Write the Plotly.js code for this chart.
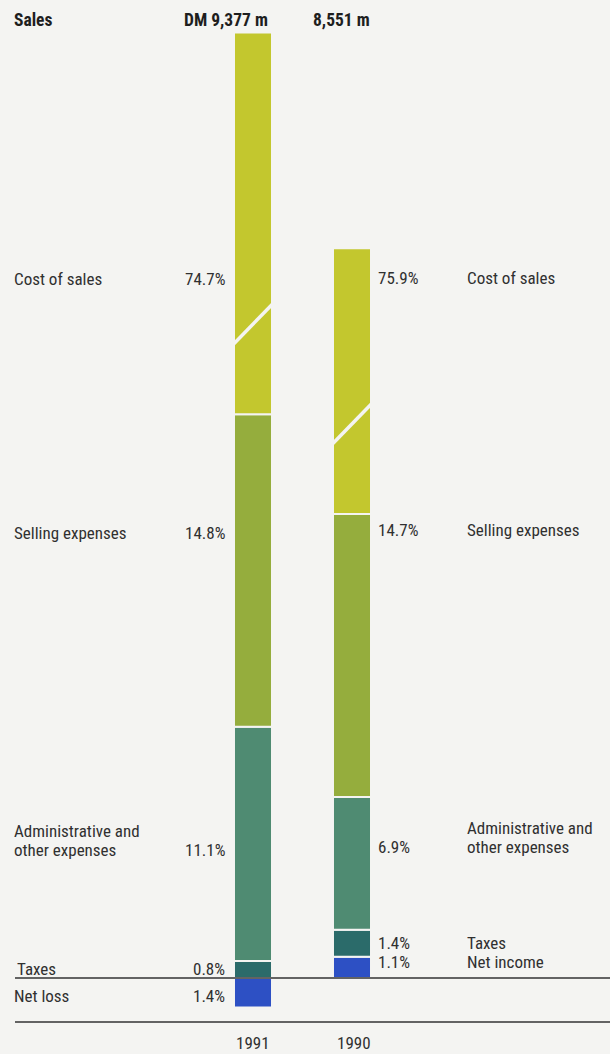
<!DOCTYPE html>
<html>
<head>
<meta charset="utf-8">
<script src="https://cdn.plot.ly/plotly-3.0.1.min.js"></script>
<style>
html,body{margin:0;padding:0;background:#f4f4f2;}
#chart{width:610px;height:1054px;}
</style>
</head>
<body>
<div id="chart"></div>
<script>
// ---- data ----
const years = ['1991', '1990'];
const salesDM = [9377, 8551];               // DM m
const salesLabels = ['DM 9,377 m', '8,551 m'];
const costPct = [74.7, 75.9];
const sellingPct = [14.8, 14.7];
const adminPct = [11.1, 6.9];
const taxesPct = [0.8, 1.4];
const netPct = [-1.4, 1.1];                 // 1991 net loss, 1990 net income
const leftItems = ['Cost of sales', 'Selling expenses', ['Administrative and', 'other expenses'], 'Taxes', 'Net loss'];
const rightItems = ['Cost of sales', 'Selling expenses', ['Administrative and', 'other expenses'], 'Taxes', 'Net income'];

// ---- presentation ----
const W = 610, H = 1054;
const AXIS_BREAK = 5310;   // DM m hidden in the broken cost-of-sales segment
const BREAK_POS = 400;     // break mark position above the cost segment base
const colors = {
  cost: '#c3c72e', selling: '#95ad3d', admin: '#4f8b72', taxes: '#2b6b6a', net: '#2d50c4'
};
const FONT = '"Roboto Condensed", "Open Sans Condensed", "DejaVu Sans Condensed", sans-serif';
const TXT = '#303030';
const BG = '#f4f4f2';

const dm = pct => pct.map((p, i) => p / 100 * salesDM[i]);
const costDM = dm(costPct), sellingDM = dm(sellingPct), adminDM = dm(adminPct),
      taxesDM = dm(taxesPct), netDM = dm(netPct);
const costShown = costDM.map(v => v - AXIS_BREAK);

function bar(name, y, color) {
  return {
    type: 'bar', x: years, y: y, name: name, width: 0.384,
    marker: {color: color, line: {color: BG, width: 2}},
    hoverinfo: 'skip', showlegend: false
  };
}
const traces = [
  bar('Net income / loss', netDM, colors.net),
  bar('Taxes', taxesDM, colors.taxes),
  bar('Administrative and other expenses', adminDM, colors.admin),
  bar('Selling expenses', sellingDM, colors.selling),
  bar('Cost of sales', costShown, colors.cost)
];

// pixel scale: 0.2252 px per DM m, baseline at y=978 px
const PXPER = 0.2252, BASE = 978, X0 = 253, XSTEP = 99;
const yRange = [-(H - BASE) / PXPER, BASE / PXPER];
const xRange = [-X0 / XSTEP, (W - X0) / XSTEP];

const px = x => x / W, py = y => 1 - y / H;

const shapes = [];
// break marks inside cost of sales
years.forEach((yr, i) => {
  const base = Math.max(netDM[i], 0) + taxesDM[i] + adminDM[i] + sellingDM[i];
  const c = base + BREAK_POS;
  shapes.push({type: 'line', xref: 'x', yref: 'y', x0: i - 0.21, x1: i + 0.21,
    y0: c - 95, y1: c + 95, line: {color: BG, width: 3.5}});
});
// baseline and bottom rule
shapes.push({type: 'line', xref: 'paper', yref: 'y', x0: px(15), x1: 1, y0: 0, y1: 0,
  line: {color: '#333', width: 1.4}});
shapes.push({type: 'line', xref: 'paper', yref: 'paper', x0: px(15), x1: 1, y0: py(1022), y1: py(1022),
  line: {color: '#333', width: 1.4}});

const annotations = [];
function ann(text, x, y, anchor, opts) {
  annotations.push(Object.assign({
    text: text, xref: 'paper', yref: 'paper', x: px(x), y: py(y),
    xanchor: anchor, yanchor: 'middle', showarrow: false,
    font: {family: FONT, size: 17, color: TXT}, align: 'left'
  }, opts || {}));
}
function annLines(t, x, y, anchor) {
  if (Array.isArray(t)) {
    t.forEach((line, j) => ann(line, x, y + (j - t.length + 1) * 19, anchor));
  } else {
    ann(t, x, y, anchor);
  }
}
const fmt = p => Math.abs(p).toFixed(1) + '%';
// header
const bold = {font: {family: FONT, size: 17.5, color: '#1e1e1e', weight: 700}};
ann('Sales', 12, 20, 'left', bold);
ann(salesLabels[0], 270, 20, 'right', bold);
ann(salesLabels[1], 311, 20, 'left', bold);
// rows (y = vertical centre of the last text line)
const leftY = [279, 533, 850, 969, 996];
const rightY = [278, 530, 847, 943, 962];
const pcts0 = [costPct[0], sellingPct[0], adminPct[0], taxesPct[0], netPct[0]];
const pcts1 = [costPct[1], sellingPct[1], adminPct[1], taxesPct[1], netPct[1]];
leftItems.forEach((t, k) => {
  annLines(t, k === 3 ? 15 : 12, leftY[k], 'left');
  ann(fmt(pcts0[k]), 227, leftY[k], 'right');
});
rightItems.forEach((t, k) => {
  annLines(t, 465, rightY[k], 'left');
  ann(fmt(pcts1[k]), 376, rightY[k], 'left');
});
// year labels
ann(years[0], 253, 1043, 'center');
ann(years[1], 354, 1043, 'center');

const layout = {
  width: W, height: H,
  margin: {l: 0, r: 0, t: 0, b: 0, pad: 0},
  paper_bgcolor: BG, plot_bgcolor: BG,
  barmode: 'relative', bargap: 0,
  xaxis: {type: 'category', range: xRange, visible: false, fixedrange: true},
  yaxis: {range: yRange, visible: false, fixedrange: true},
  shapes: shapes, annotations: annotations,
  showlegend: false
};
Plotly.newPlot('chart', traces, layout, {staticPlot: true, displayModeBar: false});
</script>
</body>
</html>
